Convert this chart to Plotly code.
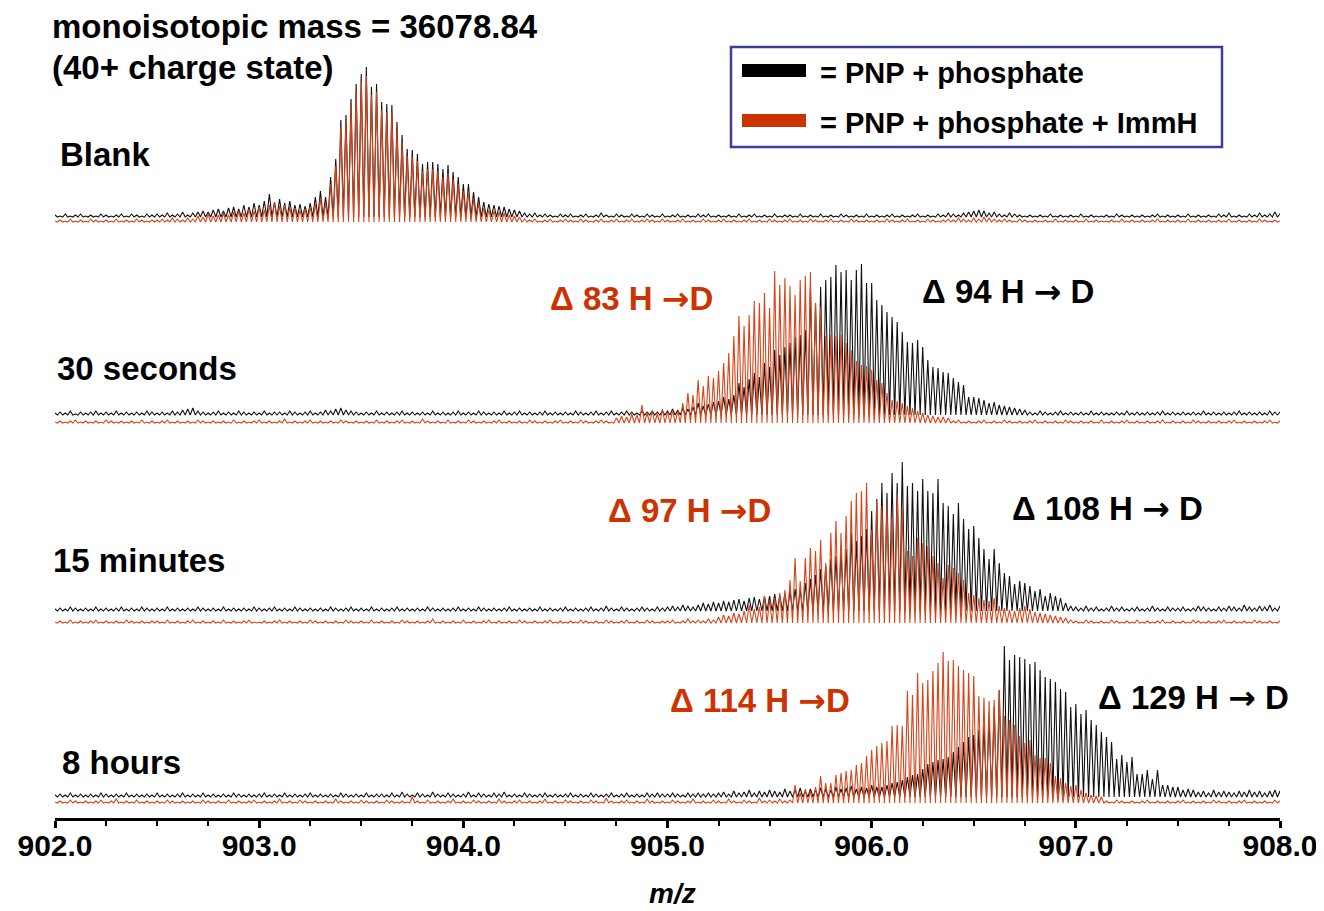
import plotly.graph_objects as go

FONT = "Liberation Sans, Arial, Helvetica, sans-serif"
RED = "#cc3300"
TRACE_RED = "#d8441a"

# isotope peaks of the 40+ ion, one every 1/40 m/z starting at 902.0
MZ_START = 902.0
ISO_STEP = 1 / 40

# peak heights (arbitrary units, tallest peak ~150) for each isotope position 902.000 .. 908.000
blank_black = [
    2, 1, 3, 1, 2, 3, 1, 2, 1, 3, 2, 1, 2, 3, 1, 3, 2, 1, 3, 2,
    3, 2, 4, 2, 3, 5, 2, 4, 5, 6, 5, 7, 8, 6, 9, 10, 8, 12, 10, 14,
    12, 16, 23, 15, 18, 14, 16, 12, 13, 11, 14, 20, 26, 20, 40, 58, 97, 102, 118, 133,
    143, 150, 130, 133, 115, 113, 112, 95, 82, 68, 67, 63, 53, 55, 55, 53, 48, 52, 45, 40,
    33, 33, 25, 20, 15, 13, 12, 11, 10, 8, 7, 6, 4, 3, 4, 2, 3, 2, 1, 3,
    2, 3, 1, 2, 3, 1, 2, 4, 2, 1, 3, 2, 1, 3, 2, 1, 3, 2, 1, 3,
    1, 2, 3, 1, 2, 1, 3, 2, 3, 1, 2, 1, 2, 1, 3, 1, 2, 3, 1, 2,
    1, 3, 1, 2, 2, 1, 3, 1, 2, 1, 3, 1, 2, 1, 3, 2, 1, 2, 1, 3,
    1, 2, 1, 2, 3, 1, 2, 1, 2, 3, 1, 2, 1, 3, 2, 4, 3, 2, 4, 5,
    6, 7, 6, 4, 5, 3, 2, 4, 3, 2, 1, 2, 1, 2, 1, 3, 1, 2, 1, 2,
    1, 3, 1, 2, 1, 1, 2, 1, 3, 2, 1, 2, 1, 2, 1, 2, 3, 1, 2, 1,
    2, 1, 3, 1, 2, 1, 2, 1, 3, 2, 4, 1, 2, 1, 3, 2, 4, 2, 3, 5,
    3,
]
blank_red = [
    1, 2, 1, 3, 1, 2, 1, 3, 2, 1, 2, 1, 3, 1, 2, 1, 3, 2, 1, 2,
    2, 3, 2, 4, 3, 2, 4, 3, 6, 5, 8, 6, 7, 9, 7, 10, 11, 9, 13, 11,
    15, 12, 17, 20, 16, 17, 15, 14, 12, 13, 15, 18, 24, 19, 38, 56, 95, 100, 116, 131,
    141, 146, 127, 130, 112, 110, 110, 92, 80, 66, 65, 61, 51, 53, 53, 51, 45, 49, 43, 38,
    31, 31, 23, 19, 14, 12, 11, 10, 9, 7, 6, 5, 3, 2, 3, 1, 2, 3, 1, 2,
    3, 2, 1, 3, 2, 1, 2, 3, 1, 2, 3, 1, 2, 3, 1, 2, 3, 2, 1, 3,
    2, 1, 2, 3, 1, 2, 1, 3, 2, 1, 2, 3, 1, 2, 1, 2, 3, 1, 2, 1,
    3, 2, 1, 2, 3, 1, 2, 1, 3, 2, 1, 2, 3, 1, 2, 1, 3, 2, 1, 2,
    1, 2, 1, 3, 2, 1, 2, 3, 1, 2, 1, 3, 2, 1, 2, 3, 2, 4, 3, 2,
    4, 3, 5, 4, 3, 2, 3, 2, 1, 3, 2, 1, 2, 1, 2, 1, 3, 1, 2, 1,
    2, 1, 3, 1, 2, 1, 1, 2, 1, 3, 1, 2, 1, 2, 1, 2, 3, 1, 2, 1,
    2, 1, 3, 1, 2, 1, 2, 1, 2, 1, 3, 1, 2, 1, 2, 1, 3, 2, 1, 2,
    1,
]
thirty_black = [
    2, 3, 2, 4, 1, 3, 2, 3, 4, 2, 3, 2, 4, 2, 3, 2, 3, 2, 4, 3,
    2, 3, 2, 4, 3, 5, 6, 7, 4, 3, 2, 3, 4, 2, 3, 2, 4, 3, 2, 3,
    2, 4, 2, 3, 3, 2, 4, 3, 2, 3, 4, 2, 3, 5, 4, 6, 7, 5, 4, 3,
    2, 3, 2, 4, 2, 3, 2, 3, 4, 2, 3, 2, 3, 2, 4, 2, 3, 2, 3, 4,
    2, 3, 2, 4, 3, 2, 3, 2, 4, 2, 3, 4, 2, 3, 2, 3, 4, 2, 3, 2,
    3, 2, 4, 3, 2, 3, 4, 2, 3, 4, 2, 3, 4, 3, 2, 4, 3, 4, 3, 4,
    4, 6, 5, 7, 6, 8, 12, 9, 11, 13, 14, 18, 16, 20, 32, 28, 36, 42, 38, 52,
    48, 65, 60, 68, 72, 78, 80, 85, 127, 112, 128, 135, 138, 150, 143, 145, 135, 145, 151, 132,
    132, 115, 110, 103, 98, 93, 83, 73, 72, 75, 68, 55, 48, 47, 43, 42, 37, 33, 30, 18,
    18, 17, 15, 12, 13, 10, 9, 8, 7, 6, 5, 3, 2, 4, 3, 2, 3, 4, 2, 3,
    2, 3, 2, 4, 2, 3, 2, 2, 3, 2, 4, 2, 3, 2, 3, 2, 3, 4, 2, 3,
    2, 3, 2, 3, 2, 4, 2, 3, 2, 3, 2, 3, 4, 2, 3, 2, 3, 2, 4, 3,
    3,
]
thirty_red = [
    1, 2, 1, 2, 3, 1, 2, 1, 2, 1, 3, 2, 1, 2, 1, 2, 1, 3, 1, 2,
    1, 2, 3, 1, 2, 1, 2, 1, 3, 2, 1, 2, 1, 2, 1, 3, 1, 2, 1, 2,
    3, 1, 2, 1, 2, 4, 1, 2, 1, 2, 3, 1, 2, 1, 2, 1, 3, 2, 1, 2,
    1, 2, 1, 3, 1, 2, 1, 2, 3, 1, 2, 1, 4, 2, 1, 2, 1, 3, 1, 2,
    1, 3, 2, 1, 2, 1, 2, 3, 1, 2, 1, 2, 1, 3, 2, 1, 2, 1, 2, 3,
    1, 2, 1, 3, 2, 1, 2, 3, 2, 1, 5, 7, 6, 9, 8, 18, 10, 12, 9, 14,
    11, 13, 12, 20, 30, 28, 43, 37, 47, 45, 52, 60, 70, 87, 107, 97, 108, 122, 120, 130,
    115, 152, 138, 145, 137, 128, 143, 147, 151, 120, 116, 87, 88, 87, 88, 80, 73, 62, 58, 57,
    53, 43, 40, 30, 23, 22, 20, 17, 15, 12, 10, 8, 7, 6, 6, 5, 2, 3, 1, 2,
    1, 2, 3, 1, 2, 1, 3, 2, 1, 2, 1, 2, 3, 1, 2, 1, 2, 1, 3, 2,
    1, 2, 1, 2, 1, 3, 1, 2, 1, 2, 3, 1, 2, 1, 2, 1, 2, 3, 1, 2,
    1, 2, 1, 3, 2, 1, 2, 1, 2, 1, 2, 3, 1, 2, 1, 2, 1, 2, 3, 1,
    2,
]
fifteen_black = [
    2, 3, 2, 4, 3, 2, 3, 2, 4, 2, 3, 2, 3, 4, 2, 3, 2, 4, 3, 2,
    3, 2, 4, 2, 3, 2, 3, 2, 4, 3, 2, 3, 2, 4, 2, 3, 2, 3, 2, 4,
    3, 2, 3, 4, 2, 3, 2, 4, 3, 2, 3, 2, 3, 2, 4, 3, 2, 3, 4, 2,
    3, 2, 4, 2, 3, 2, 3, 4, 2, 3, 2, 3, 2, 4, 3, 2, 3, 2, 3, 4,
    2, 3, 2, 4, 3, 2, 3, 2, 3, 4, 2, 3, 2, 3, 2, 4, 2, 3, 2, 3,
    4, 2, 3, 2, 3, 4, 2, 3, 5, 3, 2, 4, 3, 2, 3, 4, 3, 2, 4, 3,
    4, 5, 4, 6, 5, 4, 6, 8, 7, 9, 8, 10, 9, 11, 12, 10, 13, 14, 12, 15,
    15, 17, 16, 18, 20, 22, 21, 28, 32, 36, 42, 45, 52, 55, 60, 62, 78, 70, 75, 82,
    100, 112, 128, 118, 138, 128, 149, 125, 128, 120, 132, 120, 118, 132, 108, 105, 97, 108, 92, 82,
    85, 73, 62, 52, 62, 48, 38, 35, 27, 30, 28, 25, 20, 22, 15, 18, 15, 13, 8, 5,
    4, 3, 5, 3, 4, 2, 3, 5, 3, 4, 2, 3, 4, 2, 3, 5, 3, 2, 4, 3,
    3, 4, 2, 3, 5, 4, 3, 2, 4, 3, 5, 4, 3, 6, 4, 3, 5, 4, 6, 3,
    5,
]
fifteen_red = [
    1, 2, 1, 3, 1, 2, 1, 2, 3, 1, 2, 1, 2, 1, 3, 2, 1, 2, 1, 2,
    2, 1, 3, 1, 2, 1, 2, 3, 1, 2, 1, 2, 1, 3, 1, 2, 1, 2, 3, 1,
    1, 2, 1, 2, 3, 1, 2, 1, 2, 1, 3, 2, 1, 2, 1, 2, 1, 3, 2, 1,
    2, 1, 3, 1, 2, 1, 2, 1, 3, 2, 1, 2, 1, 2, 4, 1, 2, 1, 2, 1,
    3, 1, 2, 1, 2, 3, 1, 2, 1, 2, 1, 3, 2, 1, 2, 1, 2, 3, 1, 2,
    1, 2, 1, 3, 2, 1, 2, 1, 3, 2, 1, 2, 3, 1, 2, 1, 3, 2, 1, 2,
    2, 3, 1, 2, 4, 2, 3, 2, 4, 3, 6, 8, 7, 10, 9, 12, 18, 14, 16, 27,
    23, 25, 30, 33, 43, 65, 42, 65, 75, 72, 83, 60, 90, 102, 90, 107, 122, 130, 132, 140,
    93, 123, 117, 120, 105, 130, 117, 72, 67, 85, 80, 77, 67, 60, 45, 58, 55, 50, 43, 30,
    28, 25, 23, 22, 25, 17, 15, 13, 12, 15, 17, 14, 11, 10, 9, 8, 7, 6, 5, 3,
    2, 1, 3, 2, 1, 2, 1, 3, 2, 1, 2, 1, 3, 1, 2, 1, 2, 3, 1, 2,
    1, 2, 1, 3, 2, 1, 2, 1, 2, 3, 1, 2, 1, 2, 1, 3, 2, 1, 2, 1,
    2,
]
eight_black = [
    2, 3, 2, 4, 2, 3, 2, 3, 2, 4, 3, 2, 3, 2, 4, 2, 3, 2, 3, 2,
    4, 2, 3, 2, 3, 4, 2, 3, 2, 4, 2, 3, 2, 3, 2, 4, 3, 2, 3, 2,
    3, 4, 2, 3, 2, 4, 2, 3, 2, 3, 4, 2, 3, 2, 3, 2, 4, 3, 2, 3,
    2, 4, 2, 3, 3, 2, 4, 2, 5, 3, 2, 4, 3, 2, 5, 3, 2, 4, 3, 2,
    3, 5, 2, 4, 3, 2, 4, 3, 5, 2, 3, 2, 4, 3, 2, 3, 4, 2, 3, 2,
    3, 4, 2, 3, 2, 4, 3, 2, 3, 4, 2, 3, 4, 2, 3, 2, 4, 3, 4, 3,
    3, 4, 3, 2, 4, 3, 4, 3, 4, 3, 4, 5, 3, 6, 4, 5, 7, 4, 6, 5,
    7, 6, 5, 8, 6, 7, 9, 6, 8, 7, 9, 8, 7, 10, 8, 9, 11, 8, 10, 9,
    12, 10, 10, 12, 14, 15, 17, 20, 22, 23, 28, 33, 35, 37, 38, 40, 45, 50, 55, 60,
    62, 67, 72, 80, 90, 107, 151, 137, 142, 140, 138, 133, 135, 127, 120, 118, 115, 108, 105, 90,
    93, 83, 87, 77, 72, 65, 60, 55, 38, 42, 35, 40, 23, 23, 27, 18, 27, 12, 12, 10,
    10, 7, 8, 7, 5, 6, 4, 7, 5, 6, 5, 4, 6, 5, 7, 5, 6, 4, 6, 7,
    6,
]
eight_red = [
    1, 2, 1, 3, 2, 1, 2, 1, 2, 3, 1, 2, 4, 1, 2, 1, 3, 1, 2, 1,
    2, 1, 3, 2, 1, 2, 1, 2, 1, 3, 2, 1, 2, 1, 3, 1, 2, 1, 2, 3,
    1, 2, 1, 2, 4, 1, 2, 1, 3, 2, 1, 2, 1, 2, 1, 4, 2, 1, 2, 1,
    3, 2, 1, 2, 1, 3, 2, 1, 2, 1, 6, 2, 1, 3, 1, 2, 1, 2, 4, 1,
    2, 1, 3, 2, 1, 2, 1, 4, 2, 1, 2, 3, 1, 2, 1, 2, 4, 1, 2, 1,
    3, 2, 1, 2, 1, 3, 2, 1, 5, 2, 1, 2, 3, 1, 2, 1, 4, 2, 1, 2,
    1, 3, 2, 1, 2, 4, 1, 2, 1, 3, 2, 1, 4, 2, 1, 3, 2, 1, 5, 2,
    3, 2, 4, 2, 3, 18, 10, 14, 12, 16, 27, 20, 20, 28, 30, 32, 33, 38, 40, 47,
    53, 57, 60, 62, 77, 78, 77, 112, 108, 130, 120, 123, 132, 140, 151, 142, 143, 137, 133, 130,
    127, 107, 105, 102, 103, 113, 87, 83, 78, 67, 60, 63, 48, 45, 45, 40, 27, 25, 20, 17,
    18, 13, 10, 8, 7, 6, 2, 1, 3, 2, 1, 2, 1, 2, 3, 1, 2, 1, 2, 1,
    2, 3, 1, 2, 1, 2, 1, 3, 2, 1, 2, 1, 2, 3, 1, 2, 1, 2, 1, 3,
    2,
]

panel_labels = ["Blank", "30 seconds", "15 minutes", "8 hours"]
ARROW = "<span style='font-family:DejaVu Sans'>\u2192</span>"
delta_red = ["", f"\u0394 83 H {ARROW}D", f"\u0394 97 H {ARROW}D", f"\u0394 114 H {ARROW}D"]
delta_black = ["", f"\u0394 94 H {ARROW} D", f"\u0394 108 H {ARROW} D", f"\u0394 129 H {ARROW} D"]

# --- page geometry (page pixels; the html body adds an 8 px margin) ---
PAGE_PAD = 8
W, H = 1324 - PAGE_PAD, 911 - PAGE_PAD
X0, X1 = 55, 1280      # page x of m/z 902 and 908
Y_AXIS = 818           # page y of the x axis line
L, R, T = X0 - PAGE_PAD, W - (X1 - PAGE_PAD), 0
B = H - (Y_AXIS - PAGE_PAD)
PW, PH = X1 - X0, Y_AXIS - PAGE_PAD


def px(x):
    return (x - X0) / PW


def py(y):
    return (Y_AXIS - y) / PH


def spectrum(heights, base):
    xs, ys = [], []
    for i, h in enumerate(heights):
        mz = MZ_START + i * ISO_STEP
        xs += [mz - ISO_STEP / 2, mz]
        ys += [base, base + h]
    xs.append(MZ_START + (len(heights) - 0.5) * ISO_STEP)
    ys.append(base)
    return xs, ys


fig = go.Figure()

# baseline of each stacked spectrum above the axis, in pixels (black, red)
offsets = [(601, 596), (403, 395), (207, 195), (21, 15)]
series = [(blank_black, blank_red), (thirty_black, thirty_red),
          (fifteen_black, fifteen_red), (eight_black, eight_red)]

for (blk, red), (ob, orr) in zip(series, offsets):
    x, y = spectrum(blk, ob)
    fig.add_trace(go.Scatter(x=x, y=y, mode="lines", line=dict(color="#111111", width=1.1),
                             hoverinfo="skip", showlegend=False))
    x, y = spectrum(red, orr)
    fig.add_trace(go.Scatter(x=x, y=y, mode="lines", line=dict(color=TRACE_RED, width=1.1),
                             hoverinfo="skip", showlegend=False))


def note(text, x, y, color="black", size=33, anchor="left"):
    return dict(text=f"<b>{text}</b>", x=px(x), y=py(y), xref="paper", yref="paper",
                xanchor=anchor, yanchor="middle", showarrow=False,
                font=dict(family=FONT, size=size, color=color))


notes = [
    note("monoisotopic mass = 36078.84", 50, 26),
    note("(40+ charge state)", 50, 67),
]
label_pos = [(58, 154), (55, 369), (51, 560), (60, 762)]
for lab, (x, y) in zip(panel_labels, label_pos):
    notes.append(note(lab, x, y))

red_pos = [None, (548, 298), (606, 510), (668, 700)]
blk_pos = [None, (920, 291), (1010, 509), (1096, 697)]
for k in range(1, 4):
    notes.append(note(delta_red[k], *red_pos[k], color=RED))
    notes.append(note(delta_black[k], *blk_pos[k]))

# legend box
notes.append(note("= PNP + phosphate", 818, 73, size=29))
notes.append(note("= PNP + phosphate + ImmH", 818, 123, size=29))

# axis title
notes.append(dict(text="<b><i>m/z</i></b>", x=px(672), y=py(893), xref="paper", yref="paper",
                  xanchor="center", yanchor="middle", showarrow=False,
                  font=dict(family=FONT, size=28, color="black")))

shapes = [
    dict(type="rect", xref="paper", yref="paper", x0=px(731), x1=px(1222), y0=py(47), y1=py(147),
         line=dict(color="#3d3d9e", width=2.5), fillcolor="white", layer="below"),
    dict(type="rect", xref="paper", yref="paper", x0=px(742), x1=px(806), y0=py(64), y1=py(77),
         line=dict(width=0), fillcolor="black"),
    dict(type="rect", xref="paper", yref="paper", x0=px(742), x1=px(806), y0=py(114), y1=py(127),
         line=dict(width=0), fillcolor=RED),
]

fig.update_layout(
    width=W, height=H,
    margin=dict(l=L, r=R, t=T, b=B),
    paper_bgcolor="white", plot_bgcolor="white",
    annotations=notes, shapes=shapes,
    xaxis=dict(range=[902, 908], dtick=1, tickformat=".1f", showgrid=False, zeroline=False,
               showline=True, linecolor="black", linewidth=3,
               ticks="outside", ticklen=7, tickwidth=2.5, tickcolor="black",
               ticklabelstandoff=-8,
               tickfont=dict(family=FONT, size=30, color="black", weight="bold"),
               minor=dict(dtick=0.25, ticks="outside", ticklen=5, tickwidth=2, tickcolor="black")),
    yaxis=dict(range=[0, PH], visible=False, fixedrange=True),
)

fig.write_html("out.html")
